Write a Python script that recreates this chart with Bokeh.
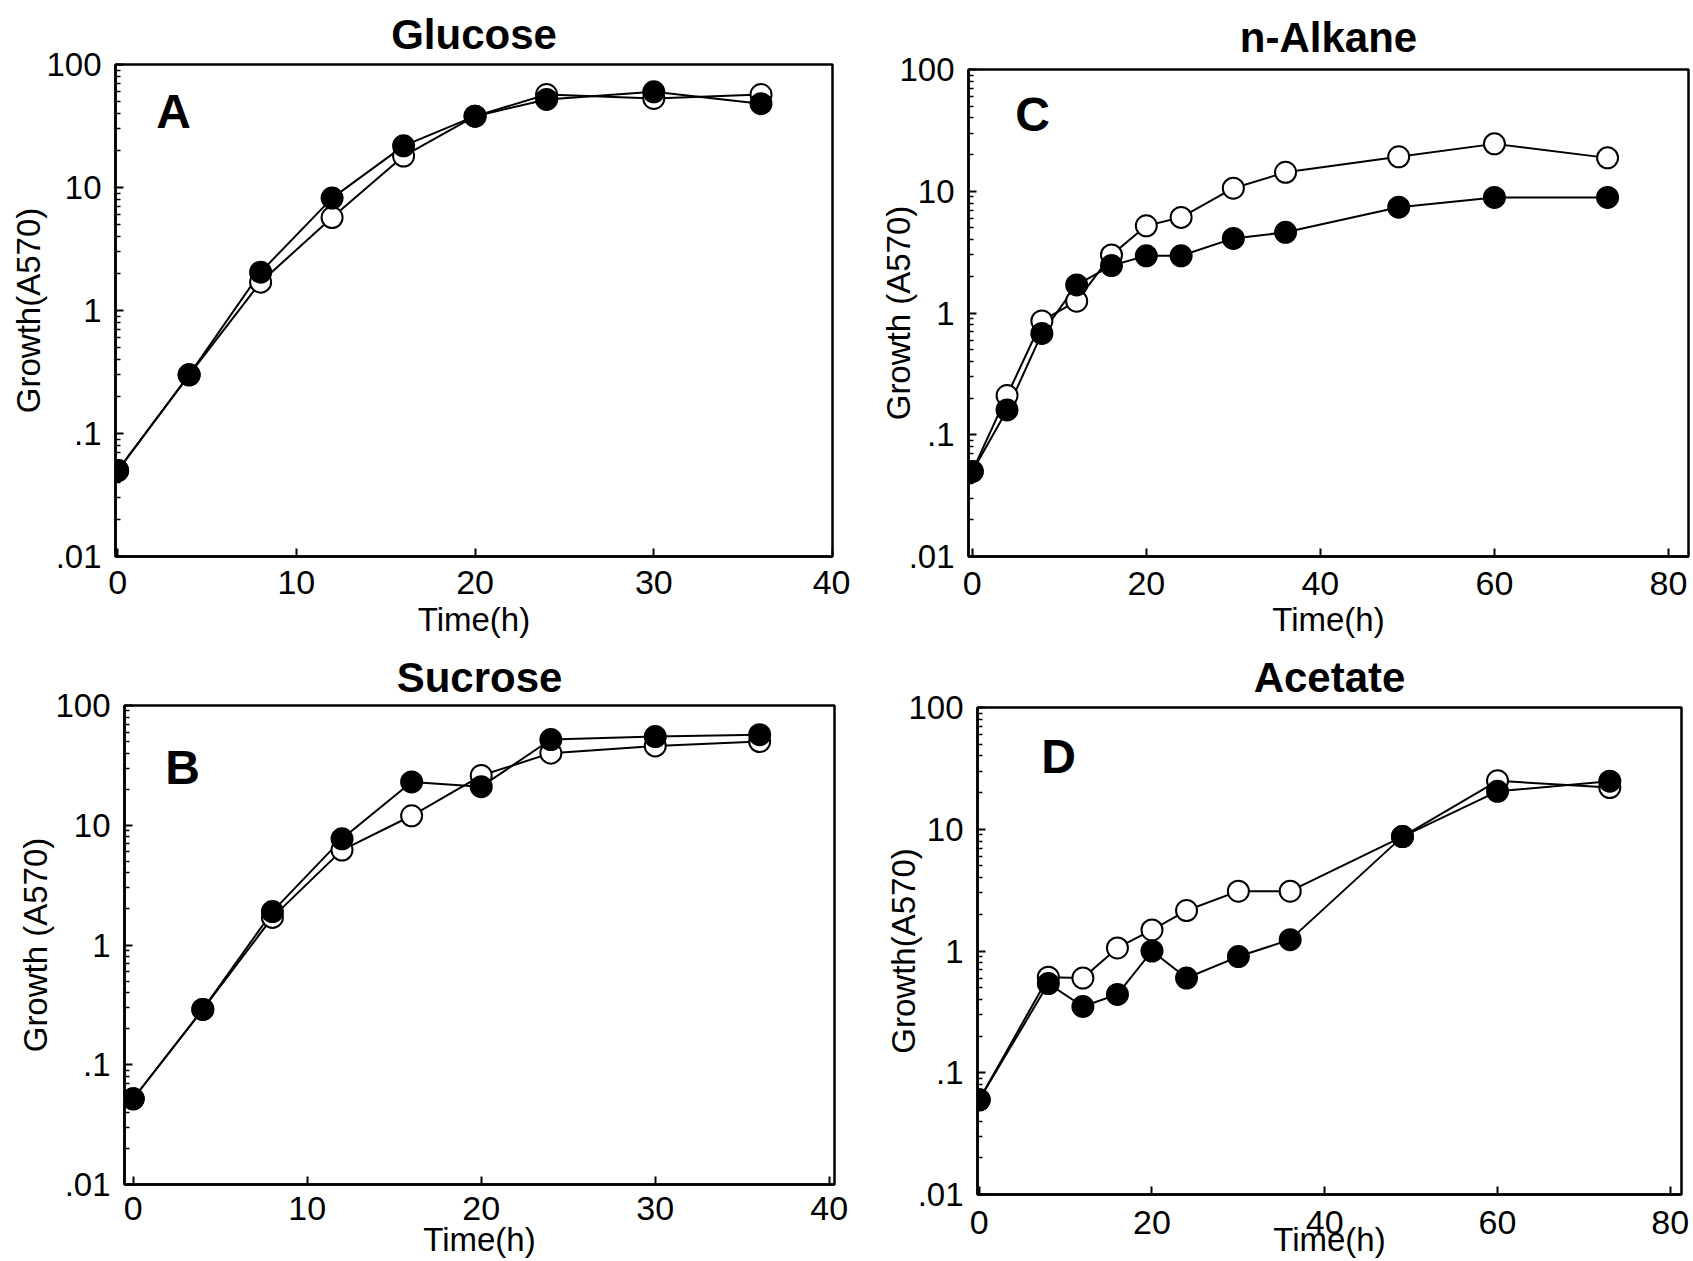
from bokeh.plotting import figure
from bokeh.models import FixedTicker, Range1d, Label
from bokeh.layouts import row, column
from bokeh.embed import file_html
from bokeh.resources import INLINE

# ---------------- data ----------------
y_ticks = [0.01, 0.1, 1, 10, 100]
y_tick_labels = [".01", ".1", "1", "10", "100"]

short_x_ticks = [0, 10, 20, 30, 40]
long_x_ticks = [0, 20, 40, 60, 80]

glucose_time = [0, 4, 8, 12, 16, 20, 24, 30, 36]
glucose_open = [0.05, 0.30, 1.7, 5.7, 18.0, 38.0, 57.0, 53.0, 57.0]
glucose_filled = [0.05, 0.30, 2.05, 8.2, 21.8, 38.0, 52.0, 60.0, 48.0]

sucrose_time = [0, 4, 8, 12, 16, 20, 24, 30, 36]
sucrose_open = [0.052, 0.29, 1.7, 6.2, 12.0, 26.0, 40.0, 46.0, 50.0]
sucrose_filled = [0.052, 0.29, 1.9, 7.7, 23.0, 21.0, 52.0, 55.0, 57.0]

alkane_time = [0, 4, 8, 12, 16, 20, 24, 30, 36, 49, 60, 73]
alkane_open = [0.05, 0.21, 0.86, 1.25, 3.0, 5.2, 6.1, 10.6, 14.3, 19.2, 24.5, 18.8]
alkane_filled = [0.05, 0.16, 0.68, 1.7, 2.45, 2.95, 2.95, 4.1, 4.6, 7.4, 8.9, 8.9]

acetate_time = [0, 8, 12, 16, 20, 24, 30, 36, 49, 60, 73]
acetate_open = [0.06, 0.61, 0.60, 1.06, 1.49, 2.15, 3.1, 3.1, 8.7, 25.0, 22.0]
acetate_filled = [0.06, 0.54, 0.35, 0.44, 1.0, 0.60, 0.90, 1.24, 8.7, 20.5, 24.8]

FONT = "Liberation Sans"


def panel(title, letter, ylabel, t, y_open, y_filled, x_ticks, x_start, x_end,
          width, height, bl, br, bt, bb, letter_dx, letter_dy,
          ylab_standoff, xtick_standoff, xlab_standoff, title_standoff):
    p = figure(width=width, height=height, y_axis_type="log",
               x_range=Range1d(x_start, x_end), y_range=Range1d(0.01, 100),
               output_backend="svg", toolbar_location=None,
               min_border_left=bl, min_border_right=br,
               min_border_top=bt, min_border_bottom=bb,
               title=title)
    p.title.text_font = FONT
    p.title.text_font_size = "42px"
    p.title.text_font_style = "bold"
    p.title.align = "center"
    p.title.text_color = "black"
    p.title.standoff = title_standoff

    p.xgrid.visible = False
    p.ygrid.visible = False
    p.outline_line_color = "black"
    p.outline_line_width = 2.5
    p.outline_line_alpha = 1.0
    p.background_fill_color = "white"
    p.border_fill_color = "white"

    p.xaxis.ticker = FixedTicker(ticks=x_ticks, minor_ticks=[])
    p.yaxis.ticker = FixedTicker(
        ticks=y_ticks,
        minor_ticks=[m * d for d in y_ticks[:-1] for m in range(2, 10)])
    p.yaxis.major_label_overrides = {v: s for v, s in zip(y_ticks, y_tick_labels)}

    for ax in (p.xaxis, p.yaxis):
        ax.axis_line_width = 2.5
        ax.axis_line_color = "black"
        ax.major_tick_in = 8
        ax.major_tick_out = 0
        ax.major_tick_line_width = 2
        ax.major_tick_line_color = "black"
        ax.minor_tick_in = 5
        ax.minor_tick_out = 0
        ax.minor_tick_line_width = 1.5
        ax.minor_tick_line_color = "black"
        ax.major_label_text_font = FONT
        ax.major_label_text_color = "black"
        ax.axis_label_text_font = FONT
        ax.axis_label_text_font_style = "normal"
        ax.axis_label_text_color = "black"

    p.xaxis.major_label_text_font_size = "34px"
    p.xaxis.axis_label = "Time(h)"
    p.xaxis.axis_label_text_font_size = "33px"
    p.xaxis.major_label_standoff = xtick_standoff
    p.xaxis.axis_label_standoff = xlab_standoff

    p.yaxis.major_label_text_font_size = "33px"
    p.yaxis.major_label_standoff = 14
    p.yaxis.axis_label = ylabel
    p.yaxis.axis_label_text_font_size = "33px"
    p.yaxis.axis_label_standoff = ylab_standoff

    p.line(t, y_open, line_color="black", line_width=2)
    p.line(t, y_filled, line_color="black", line_width=2)
    p.scatter(t, y_open, marker="circle", size=21, fill_color="white",
              line_color="black", line_width=2)
    p.scatter(t, y_filled, marker="circle", size=21, fill_color="black",
              line_color="black", line_width=2)

    fh = height - bt - bb
    p.add_layout(Label(x=letter_dx, y=fh - letter_dy, x_units="screen", y_units="screen",
                       text=letter, text_font=FONT, text_font_size="48px",
                       text_font_style="bold", text_align="center",
                       text_baseline="middle", text_color="black"))
    return p


pA = panel("Glucose", "A", "Growth(A570)", glucose_time, glucose_open, glucose_filled,
           short_x_ticks, -0.12, 40.0, 850, 640, 115, 18, 64, 84,
           58, 47, -4, 14, 4, 13)
pB = panel("Sucrose", "B", "Growth (A570)", sucrose_time, sucrose_open, sucrose_filled,
           short_x_ticks, -0.5, 40.3, 850, 620, 124, 16, 65, 74,
           58, 64, -2, 12, -2, 10)
pC = panel("n-Alkane", "C", "Growth (A570)", alkane_time, alkane_open, alkane_filled,
           long_x_ticks, -0.43, 82.3, 842, 640, 118, 4, 69, 84,
           64, 45, -21, 15, 3, 18)
pD = panel("Acetate", "D", "Growth(A570)", acetate_time, acetate_open, acetate_filled,
           long_x_ticks, -0.2, 81.3, 842, 620, 127, 11, 67, 62,
           81, 53, -17, 16, -16, 13)

layout = row(column(row(pA), row(pB)), column(row(pC), row(pD)))

open("out.html", "w").write(file_html(layout, INLINE))
